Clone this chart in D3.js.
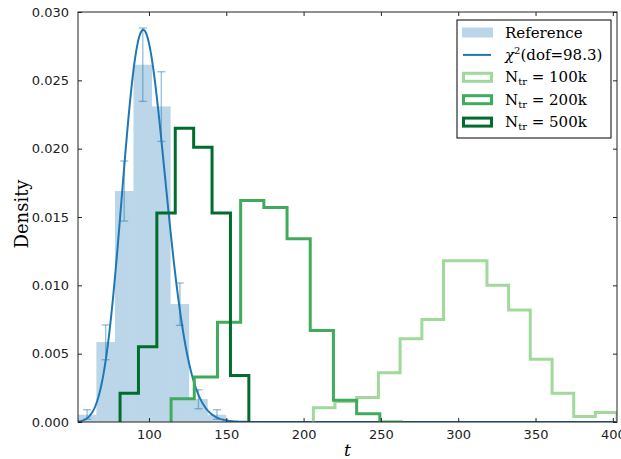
<!DOCTYPE html>
<html>
<head>
<meta charset="utf-8">
<script src="https://cdn.jsdelivr.net/npm/d3@7"></script>
<style>
  html, body { margin: 0; padding: 0; background: #fff; }
  svg { display: block; }
</style>
</head>
<body>
<svg id="chart" width="621" height="459"></svg>
<script>
// ---- data ----------------------------------------------------------------
// Reference sample histogram (density) with error bars
const refEdges = [54, 66, 78, 90, 102, 114, 126, 138, 150];
const refDensity = [0.00053, 0.00585, 0.0169, 0.02614, 0.02309, 0.00863, 0.00168, 0.00053];
const refErrLow = [0.0002, 0.00456, 0.0147, 0.02346, 0.02053, 0.00707, 0.00097, 0.0002];
const refErrHigh = [0.0009, 0.0071, 0.0191, 0.02883, 0.02563, 0.01017, 0.00236, 0.0009];

// Fitted chi-squared degrees of freedom
const chi2Dof = 98.3;

// Step histograms for each training size
const edges100k = [206.3, 220.3, 234.4, 248.4, 262.4, 276.5, 290.5, 304.5, 318.6, 332.6, 346.6, 360.7, 374.7, 388.7, 402.7];
const density100k = [0.00105, 0.0015, 0.0018, 0.0036, 0.0061, 0.0075, 0.0118, 0.0118, 0.0100, 0.0082, 0.0046, 0.0021, 0.0004, 0.0007];

const edges200k = [114.3, 129.3, 144.3, 159.3, 174.3, 189.3, 204.3, 219.3, 234.3, 249.3, 264.3];
const density200k = [0.0017, 0.0033, 0.0073, 0.0162, 0.0157, 0.0134, 0.0067, 0.0016, 0.0006, 0.0];

const edges500k = [81.3, 93.2, 105.1, 117.0, 128.9, 140.8, 152.7, 164.6];
const density500k = [0.0021, 0.0055, 0.0153, 0.0215, 0.0201, 0.0153, 0.0034];

const xTicks = [100, 150, 200, 250, 300, 350, 400];
const yTicks = [0, 0.005, 0.010, 0.015, 0.020, 0.025, 0.030];
const xDomain = [54.1, 402.7];
const yDomain = [0, 0.030];

const legendLabels = ["Reference", "chi2", "100k", "200k", "500k"];

// ---- layout --------------------------------------------------------------
const margin = { left: 78, top: 12, right: 4, bottom: 37 };
const W = 621, H = 459;
const pw = W - margin.left - margin.right;   // 539
const ph = H - margin.top - margin.bottom;   // 410

const colRef = "#1f77b4";
const col100 = "#a1d99b", col200 = "#41ab5d", col500 = "#006d2c";

const svg = d3.select("#chart");
const g = svg.append("g").attr("transform", `translate(${margin.left},${margin.top})`);

const x = d3.scaleLinear().domain(xDomain).range([0, pw]);
const y = d3.scaleLinear().domain(yDomain).range([ph, 0]);

g.append("clipPath").attr("id", "plotclip")
  .append("rect").attr("x", 0).attr("y", 0).attr("width", pw).attr("height", ph);

const plot = g.append("g").attr("clip-path", "url(#plotclip)");

// ---- reference bars ------------------------------------------------------
const refBins = refDensity.map((v, i) => ({
  x0: refEdges[i], x1: refEdges[i + 1], v, lo: refErrLow[i], hi: refErrHigh[i]
}));

plot.selectAll("rect.ref").data(refBins).enter().append("rect")
  .attr("class", "ref")
  .attr("x", d => x(d.x0))
  .attr("width", d => x(d.x1) - x(d.x0))
  .attr("y", d => y(d.v))
  .attr("height", d => y(0) - y(d.v))
  .attr("fill", colRef)
  .attr("fill-opacity", 0.3);

// error bars with caps
const eb = plot.selectAll("g.err").data(refBins).enter().append("g")
  .attr("class", "err")
  .attr("stroke", colRef).attr("stroke-opacity", 0.45).attr("stroke-width", 1.4);
eb.append("line")
  .attr("x1", d => x((d.x0 + d.x1) / 2)).attr("x2", d => x((d.x0 + d.x1) / 2))
  .attr("y1", d => y(d.lo)).attr("y2", d => y(d.hi));
eb.append("line")
  .attr("x1", d => x((d.x0 + d.x1) / 2) - 4).attr("x2", d => x((d.x0 + d.x1) / 2) + 4)
  .attr("y1", d => y(d.hi)).attr("y2", d => y(d.hi));
eb.append("line")
  .attr("x1", d => x((d.x0 + d.x1) / 2) - 4).attr("x2", d => x((d.x0 + d.x1) / 2) + 4)
  .attr("y1", d => y(d.lo)).attr("y2", d => y(d.lo));

// ---- chi-squared density curve ------------------------------------------
function lnGamma(z) {
  const c = [0.99999999999980993, 676.5203681218851, -1259.1392167224028,
    771.32342877765313, -176.61502916214059, 12.507343278686905,
    -0.13857109526572012, 9.9843695780195716e-6, 1.5056327351493116e-7];
  if (z < 0.5) return Math.log(Math.PI / Math.sin(Math.PI * z)) - lnGamma(1 - z);
  z -= 1;
  let s = c[0];
  for (let i = 1; i < 9; i++) s += c[i] / (z + i);
  const t = z + 7.5;
  return 0.5 * Math.log(2 * Math.PI) + (z + 0.5) * Math.log(t) - t + Math.log(s);
}
function chi2pdf(t, k) {
  return Math.exp((k / 2 - 1) * Math.log(t) - t / 2 - (k / 2) * Math.log(2) - lnGamma(k / 2));
}
const curveX = d3.range(xDomain[0], xDomain[1] + 0.5, 0.5);
const curve = curveX.map(t => [t, chi2pdf(t, chi2Dof)]);

plot.append("path")
  .datum(curve)
  .attr("fill", "none")
  .attr("stroke", colRef)
  .attr("stroke-width", 2)
  .attr("d", d3.line().x(d => x(d[0])).y(d => y(d[1])));

// ---- step histograms -----------------------------------------------------
function stepPoints(edges, vals) {
  const pts = [[edges[0], 0]];
  vals.forEach((v, i) => { pts.push([edges[i], v]); pts.push([edges[i + 1], v]); });
  pts.push([edges[edges.length - 1], 0]);
  return pts;
}
const stepLine = d3.line().x(d => x(d[0])).y(d => y(d[1]));
[[edges100k, density100k, col100], [edges200k, density200k, col200], [edges500k, density500k, col500]]
  .forEach(([e, v, c]) => {
    plot.append("path")
      .datum(stepPoints(e, v))
      .attr("fill", "none")
      .attr("stroke", c)
      .attr("stroke-width", 3)
      .attr("stroke-linejoin", "miter")
      .attr("d", stepLine);
  });

// ---- axes ----------------------------------------------------------------
const tickFont = "DejaVu Sans, sans-serif";
const axB = g.append("g").attr("transform", `translate(0,${ph})`)
  .call(d3.axisBottom(x).tickValues(xTicks).tickSizeInner(-4).tickSizeOuter(0).tickPadding(8).tickFormat(d3.format("d")));
const axT = g.append("g")
  .call(d3.axisTop(x).tickValues(xTicks).tickSizeInner(-4).tickSizeOuter(0).tickFormat(""));
const axL = g.append("g")
  .call(d3.axisLeft(y).tickValues(yTicks).tickSizeInner(-4).tickSizeOuter(0).tickPadding(9).tickFormat(d3.format(".3f")));
const axR = g.append("g").attr("transform", `translate(${pw},0)`)
  .call(d3.axisRight(y).tickValues(yTicks).tickSizeInner(-4).tickSizeOuter(0).tickFormat(""));

[axB, axT, axL, axR].forEach(a => {
  a.select(".domain").remove();
  a.selectAll(".tick line").attr("stroke", "#222").attr("stroke-width", 1);
  a.selectAll(".tick text").attr("font-family", tickFont).attr("font-size", 13).attr("fill", "#222");
});

// frame
g.append("rect").attr("x", 0).attr("y", 0).attr("width", pw).attr("height", ph)
  .attr("fill", "none").attr("stroke", "#222").attr("stroke-width", 1);

// axis labels
svg.append("text")
  .attr("x", margin.left + pw / 2).attr("y", 456)
  .attr("text-anchor", "middle")
  .attr("font-family", "DejaVu Serif, serif").attr("font-style", "italic").attr("font-size", 17)
  .text("t");
svg.append("text")
  .attr("transform", `translate(28,${margin.top + ph / 2 - 3}) rotate(-90)`)
  .attr("text-anchor", "middle")
  .attr("font-family", "DejaVu Serif, serif").attr("font-size", 18)
  .text("Density");

// ---- legend --------------------------------------------------------------
const serif = "DejaVu Serif, serif";
const leg = svg.append("g").attr("transform", "translate(457,20)");
leg.append("rect").attr("x", 0).attr("y", 0).attr("width", 154).attr("height", 118)
  .attr("fill", "#fff").attr("stroke", "#000").attr("stroke-width", 1);

const rowY = i => 12.5 + i * 22.4;
const items = leg.selectAll("g.item").data(legendLabels).enter().append("g")
  .attr("class", "item")
  .attr("transform", (d, i) => `translate(0,${rowY(i)})`);

items.each(function (d) {
  const it = d3.select(this);
  if (d === "Reference") {
    it.append("rect").attr("x", 5).attr("y", -5).attr("width", 31).attr("height", 10)
      .attr("fill", colRef).attr("fill-opacity", 0.3);
  } else if (d === "chi2") {
    it.append("line").attr("x1", 6).attr("x2", 34).attr("y1", 0).attr("y2", 0)
      .attr("stroke", colRef).attr("stroke-width", 2);
  } else {
    const c = d === "100k" ? col100 : d === "200k" ? col200 : col500;
    it.append("rect").attr("x", 6.5).attr("y", -4).attr("width", 28).attr("height", 8)
      .attr("fill", "#fff").attr("stroke", c).attr("stroke-width", 3);
  }
  const t = it.append("text").attr("x", 48).attr("y", 5)
    .attr("font-family", serif).attr("font-size", 15).attr("fill", "#000");
  if (d === "Reference") {
    t.text("Reference");
  } else if (d === "chi2") {
    t.append("tspan").attr("font-style", "italic").text("χ");
    t.append("tspan").attr("font-size", 10).attr("dy", -6).text("2");
    t.append("tspan").attr("dy", 6).text("(dof=" + chi2Dof + ")");
  } else {
    t.append("tspan").text("N");
    t.append("tspan").attr("font-size", 10).attr("dy", 3).text("tr");
    t.append("tspan").attr("dy", -3).text(" = " + d);
  }
});
</script>
</body>
</html>
